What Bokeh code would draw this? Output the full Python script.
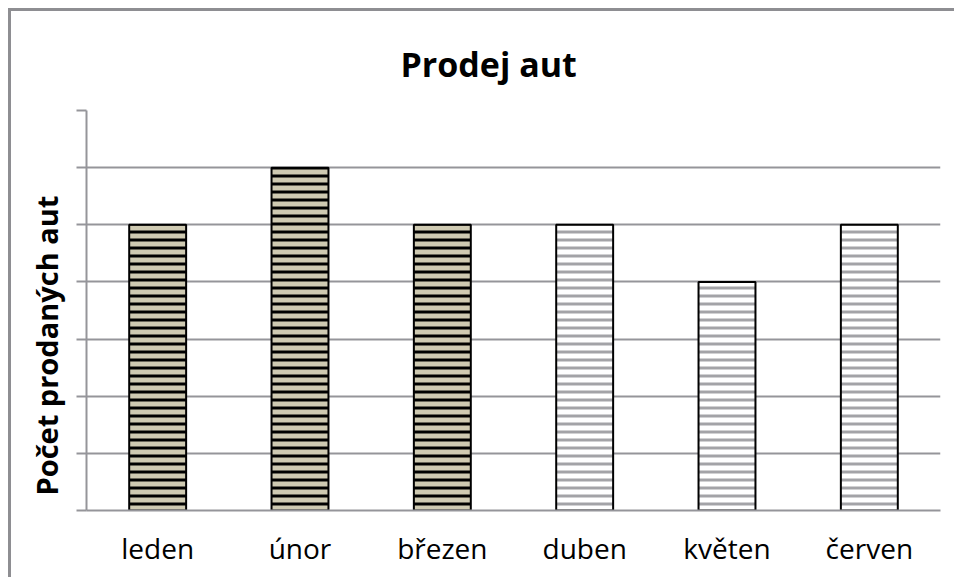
from bokeh.plotting import figure
from bokeh.models import Range1d, FixedTicker, ColumnDataSource, Title
from bokeh.embed import file_html
from bokeh.resources import INLINE

title_text = "Prodej aut"
y_label = "Počet prodaných aut"
months = ["leden", "únor", "březen", "duben", "květen", "červen"]
sales = [5, 6, 5, 5, 4, 5]
dark_count = 3  # first three bars use the dark pattern
y_ticks = [0, 1, 2, 3, 4, 5, 6, 7]

FONT = "Open Sans"
GRID = "#95959a"

xs = [i + 0.5 for i in range(len(months))]
dark = ColumnDataSource(dict(x=xs[:dark_count], top=sales[:dark_count]))
light = ColumnDataSource(dict(x=xs[dark_count:], top=sales[dark_count:]))

p = figure(width=946, height=569, output_backend="svg", toolbar_location=None,
           x_range=Range1d(0, len(months)), y_range=Range1d(0, max(y_ticks)),
           min_border_left=75, min_border_right=17, min_border_top=99,
           min_border_bottom=70, title=None)
p.styles = {"border-left": "3px solid #8e8e92", "border-top": "3px solid #8e8e92",
            "margin-left": "8px", "margin-top": "8px"}
p.outline_line_color = None
p.background_fill_color = "white"
p.border_fill_color = "white"

p.vbar(x="x", top="top", bottom=0, width=0.4, source=dark,
       fill_color="#cfcab2", line_color="black", line_width=2,
       hatch_pattern="horizontal_line", hatch_color="black",
       hatch_scale=8, hatch_weight=3)
p.vbar(x="x", top="top", bottom=0, width=0.4, source=light,
       fill_color="white", line_color="black", line_width=2,
       hatch_pattern="horizontal_line", hatch_color="#a3a3a7",
       hatch_scale=8, hatch_weight=3)

# Title
p.add_layout(Title(text=title_text, align="left", offset=314,
                   text_font=FONT, text_font_size="34px", text_font_style="bold",
                   text_color="black", standoff=47), "above")

# Y axis label as a left-side title
p.add_layout(Title(text=y_label, align="left", offset=15,
                   text_font=FONT, text_font_size="29px", text_font_style="bold",
                   text_color="black", standoff=21), "left")

# y axis
p.yaxis.ticker = FixedTicker(ticks=y_ticks)
p.yaxis.major_label_text_color = None
p.yaxis.major_label_text_font_size = "1px"
p.yaxis.major_label_standoff = 0
p.yaxis.major_tick_out = 10
p.yaxis.major_tick_in = 0
p.yaxis.minor_tick_line_color = None
p.yaxis.axis_line_color = GRID
p.yaxis.axis_line_width = 2
p.yaxis.major_tick_line_color = GRID
p.yaxis.major_tick_line_width = 2

# x axis
p.xaxis.ticker = FixedTicker(ticks=xs)
p.xaxis.major_label_overrides = {x: m for x, m in zip(xs, months)}
p.xaxis.major_label_text_font = FONT
p.xaxis.major_label_text_font_size = "28px"
p.xaxis.major_label_text_color = "black"
p.xaxis.major_label_standoff = 12
p.xaxis.major_tick_line_color = None
p.xaxis.minor_tick_line_color = None
p.xaxis.axis_line_color = GRID
p.xaxis.axis_line_width = 2

p.xgrid.grid_line_color = None
p.ygrid.ticker = FixedTicker(ticks=y_ticks[1:])
p.ygrid.grid_line_color = GRID
p.ygrid.grid_line_width = 2

open("out.html", "w").write(file_html(p, INLINE))
